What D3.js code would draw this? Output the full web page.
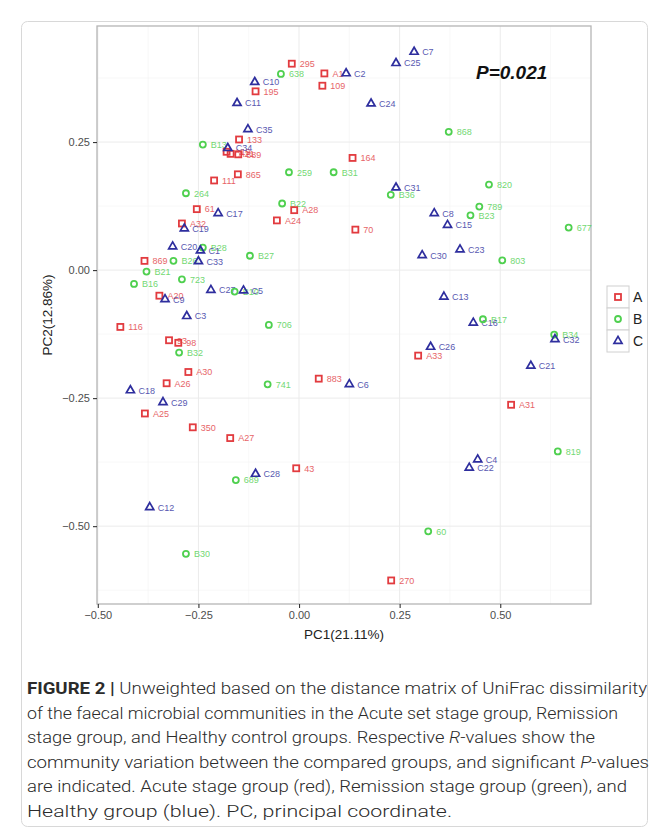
<!DOCTYPE html>
<html lang="en">
<head>
<meta charset="utf-8">
<script src="https://cdn.jsdelivr.net/npm/d3@7"></script>
<style>
    body { margin: 0; background: #fff; }
    text { font-family: "Liberation Sans", Arial, sans-serif; }
</style>
</head>

<body>
<div id="svg"></div>

<script>
    // [label, PC1, PC2]
    var groupA = [
        ["295", -0.018, 0.403], ["A1", 0.063, 0.384], ["109", 0.058, 0.360],
        ["195", -0.108, 0.349], ["133", -0.149, 0.255], ["A19", -0.180, 0.231],
        ["A21", -0.170, 0.227], ["889", -0.151, 0.226], ["865", -0.152, 0.187],
        ["111", -0.211, 0.175], ["164", 0.133, 0.219], ["61", -0.254, 0.119],
        ["A28", -0.012, 0.117], ["A24", -0.055, 0.097], ["A32", -0.291, 0.091],
        ["70", 0.140, 0.079], ["869", -0.384, 0.018], ["A20", -0.347, -0.050],
        ["116", -0.444, -0.111], ["93", -0.323, -0.137], ["98", -0.300, -0.142],
        ["A30", -0.275, -0.199], ["A26", -0.329, -0.221], ["883", 0.049, -0.212],
        ["A33", 0.296, -0.167], ["A25", -0.383, -0.280], ["350", -0.264, -0.307],
        ["A27", -0.171, -0.328], ["A31", 0.527, -0.263], ["43", -0.007, -0.387],
        ["270", 0.229, -0.606]
    ];

    var groupB = [
        ["638", -0.045, 0.383], ["B13", -0.239, 0.245], ["259", -0.025, 0.191],
        ["B31", 0.086, 0.191], ["868", 0.372, 0.270], ["264", -0.281, 0.150],
        ["B22", -0.042, 0.130], ["B36", 0.228, 0.147], ["820", 0.472, 0.167],
        ["789", 0.448, 0.124], ["B23", 0.426, 0.107], ["677", 0.670, 0.083],
        ["B28", -0.239, 0.044], ["B27", -0.122, 0.028], ["B26", -0.312, 0.018],
        ["B21", -0.379, -0.003], ["723", -0.291, -0.018], ["B16", -0.410, -0.027],
        ["B10", -0.160, -0.042], ["803", 0.505, 0.019], ["706", -0.075, -0.107],
        ["B17", 0.457, -0.096], ["B32", -0.298, -0.161], ["B34", 0.634, -0.126],
        ["741", -0.078, -0.223], ["819", 0.643, -0.354], ["689", -0.157, -0.410],
        ["60", 0.321, -0.510], ["B30", -0.281, -0.554]
    ];

    var groupC = [
        ["C7", 0.286, 0.426], ["C25", 0.241, 0.404], ["C2", 0.117, 0.384],
        ["C10", -0.110, 0.367], ["C11", -0.154, 0.326], ["C24", 0.179, 0.325],
        ["C35", -0.127, 0.275], ["C34", -0.177, 0.238], ["C31", 0.241, 0.161],
        ["C17", -0.201, 0.111], ["C8", 0.336, 0.111], ["C15", 0.369, 0.088],
        ["C19", -0.285, 0.081], ["C20", -0.314, 0.046], ["C1", -0.245, 0.038],
        ["C23", 0.400, 0.040], ["C30", 0.306, 0.029], ["C33", -0.250, 0.017],
        ["C27", -0.219, -0.039], ["C5", -0.138, -0.040], ["C9", -0.333, -0.057],
        ["C13", 0.360, -0.052], ["C3", -0.279, -0.090], ["C16", 0.433, -0.103],
        ["C32", 0.636, -0.135], ["C26", 0.327, -0.150], ["C21", 0.576, -0.187],
        ["C6", 0.125, -0.223], ["C18", -0.419, -0.235], ["C29", -0.338, -0.258],
        ["C4", 0.444, -0.370], ["C22", 0.423, -0.386], ["C28", -0.108, -0.398],
        ["C12", -0.371, -0.463]
    ];

    var groups = ["A", "B", "C"];
    var groupColors = ["#e23b3f", "#4fd04f", "#2e2e9e"];
    var xTicks = [-0.50, -0.25, 0.00, 0.25, 0.50];
    var yTicks = [-0.50, -0.25, 0.00, 0.25];
    var xMinor = [-0.375, -0.125, 0.125, 0.375, 0.625];
    var yMinor = [-0.625, -0.375, -0.125, 0.125, 0.375];

    var captionLines = [
        [["FIGURE 2 |", "b"], [" Unweighted based on the distance matrix of UniFrac dissimilarity", ""]],
        [["of the faecal microbial communities in the Acute set stage group, Remission", ""]],
        [["stage group, and Healthy control groups. Respective ", ""], ["R", "i"], ["-values show the", ""]],
        [["community variation between the compared groups, and significant ", ""], ["P", "i"], ["-values", ""]],
        [["are indicated. Acute stage group (red), Remission stage group (green), and", ""]],
        [["Healthy group (blue). PC, principal coordinate.", ""]]
    ];
    var captionWidths = [620, 591, 568, 622, 600, 425];

    var W = 669, H = 829;
    var panel = {left: 97, right: 591, top: 26, bottom: 604};

    var svg = d3.select("#svg").append("svg")
        .attr("width", W)
        .attr("height", H);

    // outer frame of the figure
    svg.append("rect")
        .attr("x", 21.5).attr("y", 21.5)
        .attr("width", 626).attr("height", 805)
        .attr("rx", 6)
        .style("fill", "none")
        .style("stroke", "#d8d8d8");

    var x = d3.scaleLinear().domain([-0.502, 0.7255]).range([panel.left, panel.right]);
    var y = d3.scaleLinear().domain([0.4766, -0.652]).range([panel.top, panel.bottom]);

    // grid
    var grid = svg.append("g");
    grid.selectAll(".vmin").data(xMinor).enter().append("line")
        .attr("x1", x).attr("x2", x).attr("y1", panel.top).attr("y2", panel.bottom)
        .style("stroke", "#f4f4f4").style("stroke-width", 0.6);
    grid.selectAll(".hmin").data(yMinor).enter().append("line")
        .attr("y1", y).attr("y2", y).attr("x1", panel.left).attr("x2", panel.right)
        .style("stroke", "#f4f4f4").style("stroke-width", 0.6);
    grid.selectAll(".vmaj").data(xTicks).enter().append("line")
        .attr("x1", x).attr("x2", x).attr("y1", panel.top).attr("y2", panel.bottom)
        .style("stroke", "#ebebeb").style("stroke-width", 1);
    grid.selectAll(".hmaj").data(yTicks).enter().append("line")
        .attr("y1", y).attr("y2", y).attr("x1", panel.left).attr("x2", panel.right)
        .style("stroke", "#ebebeb").style("stroke-width", 1);

    svg.append("rect")
        .attr("x", panel.left).attr("y", panel.top)
        .attr("width", panel.right - panel.left).attr("height", panel.bottom - panel.top)
        .style("fill", "none").style("stroke", "#b5b5b5").style("stroke-width", 1.3);

    // axes
    var fmt = d3.format(".2f");
    var xAxis = svg.append("g")
        .attr("transform", "translate(0," + panel.bottom + ")")
        .call(d3.axisBottom(x).tickValues(xTicks).tickFormat(fmt).tickSize(4).tickPadding(3));
    var yAxis = svg.append("g")
        .attr("transform", "translate(" + panel.left + ",0)")
        .call(d3.axisLeft(y).tickValues(yTicks).tickFormat(fmt).tickSize(4).tickPadding(3));
    [xAxis, yAxis].forEach(function(a) {
        a.select(".domain").remove();
        a.selectAll(".tick line").style("stroke", "#333").style("stroke-width", 1.1);
        a.selectAll(".tick text")
            .style("font-family", "'Liberation Sans', Arial, sans-serif")
            .style("font-size", "11px").style("fill", "#4d4d4d");
    });

    svg.append("text")
        .attr("x", (panel.left + panel.right) / 2).attr("y", 639)
        .attr("text-anchor", "middle")
        .style("font-size", "13.5px").style("fill", "#222")
        .text("PC1(21.11%)");
    svg.append("text")
        .attr("transform", "translate(52," + (panel.top + panel.bottom) / 2 + ") rotate(-90)")
        .attr("text-anchor", "middle")
        .style("font-size", "13.5px").style("fill", "#222")
        .text("PC2(12.86%)");

    // markers
    function drawMarker(sel, g, size) {
        var c = groupColors[g];
        if (g === 0) {
            sel.append("rect")
                .attr("x", -size / 2).attr("y", -size / 2)
                .attr("width", size).attr("height", size)
                .style("fill", "none").style("stroke", c).style("stroke-width", 1.8);
        } else if (g === 1) {
            sel.append("circle").attr("r", size / 2)
                .style("fill", "none").style("stroke", c).style("stroke-width", 1.8);
        } else {
            sel.append("path")
                .attr("d", d3.symbol().type(d3.symbolTriangle).size(size * size * 0.5)())
                .style("fill", "none").style("stroke", c).style("stroke-width", 1.7);
        }
    }

    var allGroups = [groupA, groupB, groupC];

    // text labels first, points over them
    allGroups.forEach(function(data, g) {
        svg.append("g").selectAll("text").data(data).enter().append("text")
            .attr("x", function(d) { return x(d[1]) + 8; })
            .attr("y", function(d) { return y(d[2]) + 3.3; })
            .style("font-size", "9px")
            .style("fill", groupColors[g])
            .style("opacity", 0.8)
            .text(function(d) { return d[0]; });
    });

    allGroups.forEach(function(data, g) {
        svg.append("g").selectAll("g").data(data).enter().append("g")
            .attr("transform", function(d) { return "translate(" + x(d[1]) + "," + y(d[2]) + ")"; })
            .each(function() { drawMarker(d3.select(this), g, g === 2 ? 7.5 : 6); });
    });

    // P value
    svg.append("text")
        .attr("x", 476).attr("y", 79)
        .style("font-size", "19px").style("font-weight", "bold").style("font-style", "italic")
        .style("fill", "#111")
        .text("P=0.021");

    // legend
    var legend = svg.append("g").selectAll("g").data(groups).enter().append("g")
        .attr("transform", function(d, i) { return "translate(607," + (286 + 22 * i) + ")"; });
    legend.append("rect")
        .attr("width", 22).attr("height", 22)
        .style("fill", "#fff").style("stroke", "#d0d0d0");
    legend.append("g")
        .attr("transform", "translate(11,11)")
        .each(function(d, i) { drawMarker(d3.select(this), i, i === 2 ? 7.5 : 6); });
    legend.append("text")
        .attr("x", 26).attr("y", 16)
        .style("font-size", "14px").style("fill", "#222")
        .text(function(d) { return d; });

    // caption
    var cap = svg.append("g");
    captionLines.forEach(function(parts, i) {
        var t = cap.append("text")
            .attr("x", 27).attr("y", 694 + 24.6 * i)
            .attr("textLength", captionWidths[i])
            .attr("lengthAdjust", "spacingAndGlyphs")
            .style("font-family", "Roboto, 'Liberation Sans', sans-serif")
            .style("font-size", "16.5px").style("font-weight", 300)
            .style("fill", "#2b2b2b");
        parts.forEach(function(p) {
            t.append("tspan")
                .style("font-weight", p[1] === "b" ? "bold" : null)
                .style("font-style", p[1] === "i" ? "italic" : null)
                .text(p[0]);
        });
    });
</script>
</body>
</html>
